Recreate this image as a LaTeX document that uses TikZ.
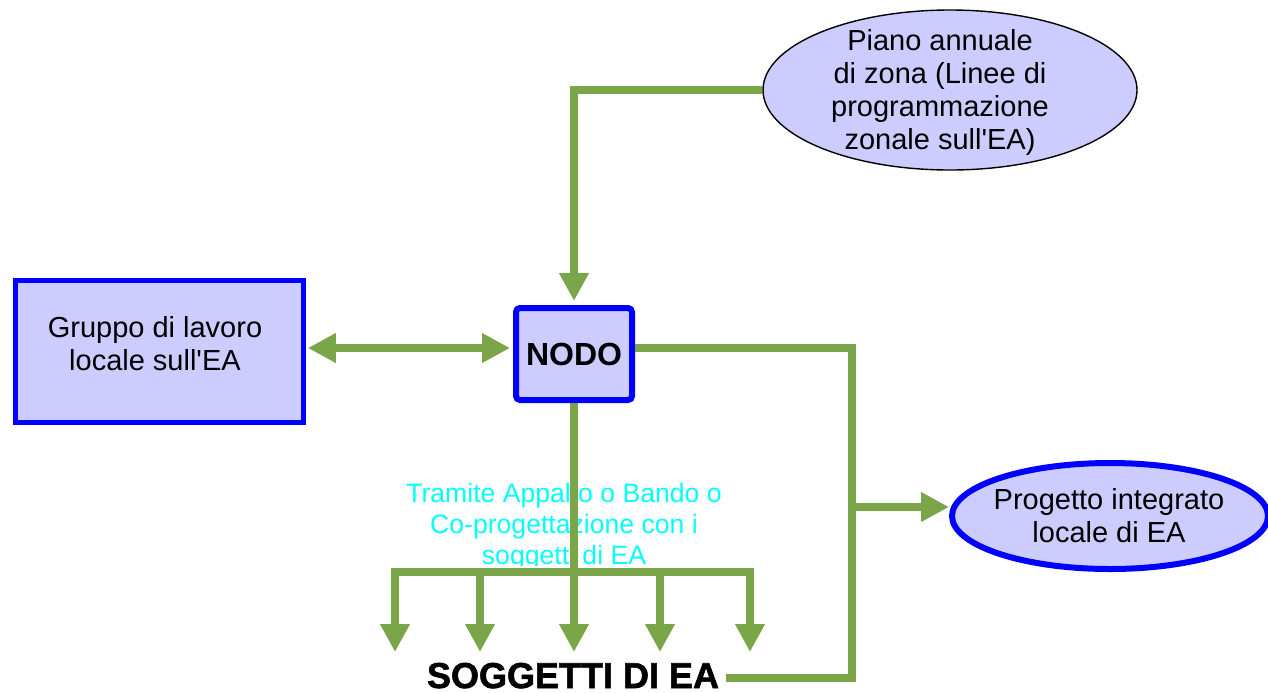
\documentclass[tikz,border=0pt]{standalone}
\usepackage{fontspec}
\setmainfont{Liberation Sans}
\newfontfamily\heavyfont[FakeBold=1.6]{Liberation Sans Bold}
\usepackage{xcolor}
\usetikzlibrary{
    shapes,
    arrows.meta,
    positioning
}
\definecolor{lavender}{RGB}{204,204,255}
\definecolor{linkgreen}{RGB}{122,165,72}
\definecolor{notecyan}{RGB}{0,255,255}
\tikzset{group/.style={
    draw=blue,
    fill=lavender,
    line width=2.5pt,
    minimum height=71pt,
    minimum width=144pt,
}}
\tikzset{hub/.style={
    draw=blue,
    fill=lavender,
    line width=3pt,
    minimum height=46pt,
    minimum width=58pt,
    rounded corners=2pt,
    font=\bfseries\fontsize{16}{18}\selectfont,
}}
\tikzset{plan/.style={
    ellipse,
    draw=black,
    fill=lavender,
    line width=0.7pt,
    inner sep=0pt,
    minimum height=80pt,
    minimum width=187pt,
}}
\tikzset{project/.style={
    ellipse,
    draw=blue,
    fill=lavender,
    line width=3pt,
    inner sep=0pt,
    minimum height=53pt,
    minimum width=158pt,
}}
\tikzset{note/.style={
    text=notecyan,
    font=\fontsize{13.3}{15.5}\selectfont,
}}
\tikzset{link/.style={
    draw=linkgreen,
    line width=3.75pt,
}}
\tikzset{arrow/.style={
    link,
    -{Triangle[width=14pt,length=14pt]},
}}
\tikzset{twoway/.style={
    link,
    {Triangle[width=14pt,length=14pt]}-{Triangle[width=14pt,length=14pt]},
    shorten <=1.2pt,
    shorten >=1.5pt,
}}

\begin{document}
\begin{tikzpicture}[
                x=0.5pt, y=-0.5pt,
                align=center,
                font=\fontsize{14.5}{16.5}\selectfont,
                node distance=0.0cm
        ]
            \useasboundingbox (0,0) rectangle (1268,692);

            \node[group] (gruppo) at (159,351) {};
            \node (gruppo-text) at (155,344) {Gruppo di lavoro\\locale sull\textquotesingle EA};
            \node[hub] (nodo) at (574,354) {NODO};
            \node[plan] (piano) at (950,90) {};
            \node (piano-text) at (940,92) {Piano annuale\\di zona (Linee di\\programmazione\\zonale sull\textquotesingle EA)};
            \node[project] (progetto) at (1110,516) {};
            \node (progetto-text) at (1109,516) {Progetto integrato\\locale di EA};
            \node[anchor=base, inner ysep=0pt, font=\heavyfont\fontsize{18}{20}\selectfont] (soggetti) at (573,688) {SOGGETTI DI EA};

            \begin{scope}
                \clip (380,470) rectangle (770,565);
                \node[note] (tramite) at (564,527) {Tramite Appalto o Bando o\\Co-progettazione con i\\soggetti di EA};
            \end{scope}

            \coordinate (nodo-port) at ([yshift=3pt]nodo.west);
            \coordinate (nodo-out) at ([yshift=3pt]nodo.east);
            \coordinate (bend) at (852,678);
            \coordinate (branch) at (852,507);
            \coordinate (bar) at (574,572);

            \draw[arrow, shorten >=2pt] (piano.west) -| (nodo.north);
            \draw[twoway] (gruppo.east |- nodo-port) -- (nodo-port);
            \draw[link] (nodo-out) -| (bend) -- (bend -| soggetti.east);
            \draw[arrow] (branch) -- (branch -| progetto.west);

            \foreach \x/\n in {395/a,480/b,574/c,660/d,750/e}
                \coordinate (sub-\n) at (\x,652);
            \draw[arrow] (bar) -| (sub-a);
            \draw[arrow] (bar) -| (sub-e);
            \draw[arrow] (sub-b |- bar) -- (sub-b);
            \draw[arrow] (sub-d |- bar) -- (sub-d);
            \draw[arrow] (nodo.south) -- (sub-c);

        \end{tikzpicture}
\end{document}
